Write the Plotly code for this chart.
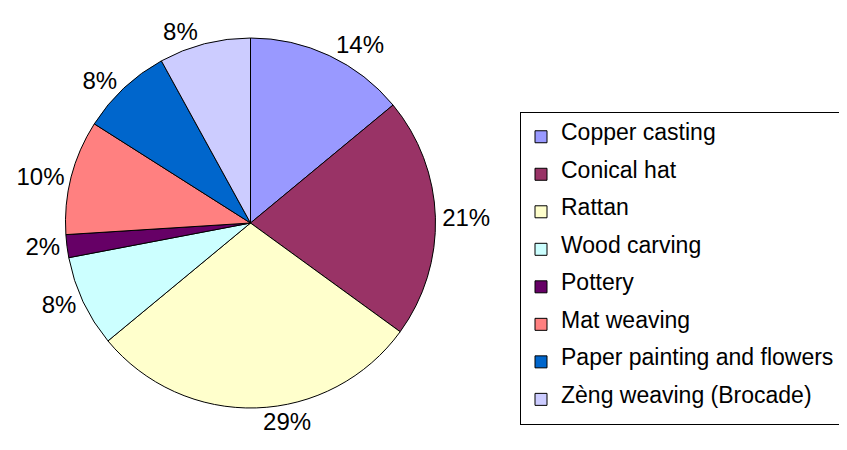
import plotly.graph_objects as go

# crafts and their shares
crafts = ["Copper casting", "Conical hat", "Rattan", "Wood carving",
          "Pottery", "Mat weaving", "Paper painting and flowers",
          "Zèng weaving (Brocade)"]
shares = [14, 21, 29, 8, 2, 10, 8, 8]
colors = ["#9999FF", "#993366", "#FFFFCC", "#CCFFFF",
          "#660066", "#FF8080", "#0066CC", "#CCCCFF"]

# the page body has an 8px margin, so the figure sits at (8, 8)
OFF = 8
W, H = 847 - OFF, 450 - OFF

def px_x(x):
    return (x - OFF) / W

def px_y(y):
    return 1 - (y - OFF) / H

# three-line legend labels (empty lines with a tiny legend font) so the
# entries are spaced like the original
legend_labels = ["<br><span style='font-size:23px'>" + c + "</span><br>" for c in crafts]

fig = go.Figure(go.Pie(
    labels=legend_labels,
    values=shares,
    sort=False,
    direction="clockwise",
    rotation=0,
    marker=dict(colors=colors, line=dict(color="black", width=1)),
    textinfo="percent",
    texttemplate="%{percent:.0%}",
    textposition="outside",
    outsidetextfont=dict(size=24, color="black", family="Liberation Sans, Arial"),
    hoverinfo="label+percent",
    domain=dict(x=[px_x(65), px_x(436)], y=[px_y(408), px_y(38)]),
))

fig.update_layout(
    width=W, height=H,
    margin=dict(l=0, r=0, t=0, b=0, autoexpand=False),
    paper_bgcolor="white",
    font=dict(family="Liberation Sans, Arial", color="black"),
    showlegend=True,
    legend=dict(
        x=px_x(520), xanchor="left",
        y=px_y(112), yanchor="top",
        bordercolor="black", borderwidth=1,
        font=dict(size=8.85, color="black"),
        valign="middle",
        bgcolor="white",
    ),
)

fig.write_html("out.html")
